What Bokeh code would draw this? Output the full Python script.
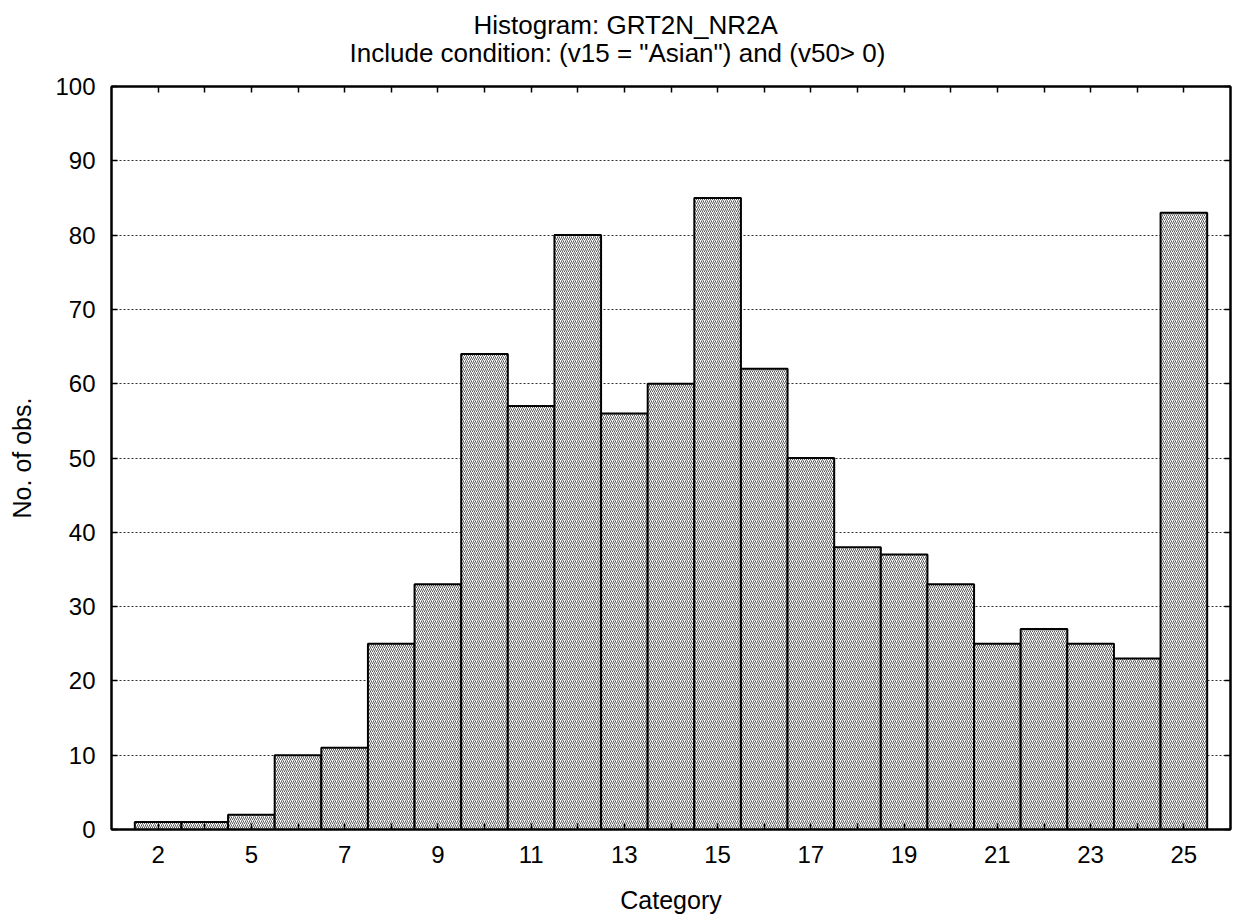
from bokeh.plotting import figure
from bokeh.models import Range1d, FixedTicker, LinearAxis, Title, ColumnDataSource
from bokeh.embed import file_html
from bokeh.resources import INLINE

title_line1 = "Histogram: GRT2N_NR2A"
title_line2 = 'Include condition: (v15 = "Asian")  and (v50> 0)'
x_title = "Category"
y_title = "No. of obs."

categories = ["2", "3", "5", "6", "7", "8", "9", "10", "11", "12", "13", "14",
              "15", "16", "17", "18", "19", "20", "21", "22", "23", "24", "25"]
counts = [1, 1, 2, 10, 11, 25, 33, 64, 57, 80, 56, 60,
          85, 62, 50, 38, 37, 33, 25, 27, 25, 23, 83]
y_ticks = [0, 10, 20, 30, 40, 50, 60, 70, 80, 90, 100]

FONT = "Liberation Sans"
N = len(categories)
xs = list(range(N))
src = ColumnDataSource(dict(x=xs, top=counts, cat=categories))

p = figure(width=1233, height=920, output_backend="svg", toolbar_location=None,
           x_range=Range1d(-1, N), y_range=Range1d(0, 100),
           min_border_left=111, min_border_right=2, min_border_top=86,
           min_border_bottom=91, background_fill_color="white",
           border_fill_color="white")
p.title.visible = False

xticker = FixedTicker(ticks=xs)
yticker = FixedTicker(ticks=y_ticks)

p.vbar(x="x", top="top", width=1, source=src, fill_color="white",
       line_color="black", line_width=2, hatch_pattern="/",
       hatch_color="#222222", hatch_scale=4, hatch_weight=0.75)

bottom_axis = p.below[0]
left_axis = p.left[0]
bottom_axis.ticker = xticker
bottom_axis.major_label_overrides = {i: (c if i % 2 == 0 else "") for i, c in enumerate(categories)}
left_axis.ticker = yticker

top_axis = LinearAxis(ticker=xticker, major_label_overrides={i: " " for i in xs})
right_axis = LinearAxis(ticker=yticker, major_label_overrides={t: " " for t in y_ticks})
p.add_layout(top_axis, "above")
p.add_layout(right_axis, "right")

for ax in (bottom_axis, left_axis, top_axis, right_axis):
    ax.axis_line_width = 2
    ax.axis_line_color = "black"
    ax.major_tick_in = 6
    ax.major_tick_out = 0
    ax.major_tick_line_width = 1.5
    ax.major_tick_line_color = "black"
    ax.minor_tick_in = 0
    ax.minor_tick_out = 0
    ax.major_label_text_font = FONT
    ax.major_label_text_font_size = "24px"
    ax.major_label_text_color = "black"
    ax.axis_label_text_font = FONT
    ax.axis_label_text_font_size = "25px"
    ax.axis_label_text_font_style = "normal"
    ax.axis_label_text_color = "black"

bottom_axis.axis_label = x_title
bottom_axis.major_label_standoff = 16
bottom_axis.axis_label_standoff = 20
left_axis.axis_label = y_title
left_axis.major_label_standoff = 16
left_axis.axis_label_standoff = 16
top_axis.major_label_text_font_size = "1px"
top_axis.major_label_standoff = 18
right_axis.major_label_text_font_size = "1px"
right_axis.major_label_standoff = 0

p.xgrid.visible = False
p.ygrid.ticker = yticker
p.ygrid.grid_line_color = "#333333"
p.ygrid.grid_line_dash = "2 2"
p.ygrid.grid_line_width = 1

p.outline_line_color = "black"
p.outline_line_width = 2

t2 = Title(text=title_line2, align="left", offset=238, standoff=-6,
           vertical_align="bottom", text_font=FONT, text_font_size="26px",
           text_font_style="normal", text_color="black")
t1 = Title(text=title_line1, align="left", offset=362, standoff=-2,
           vertical_align="bottom", text_font=FONT, text_font_size="26px",
           text_font_style="normal", text_color="black")
p.add_layout(t2, "above")
p.add_layout(t1, "above")

open("out.html", "w").write(file_html(p, INLINE))
